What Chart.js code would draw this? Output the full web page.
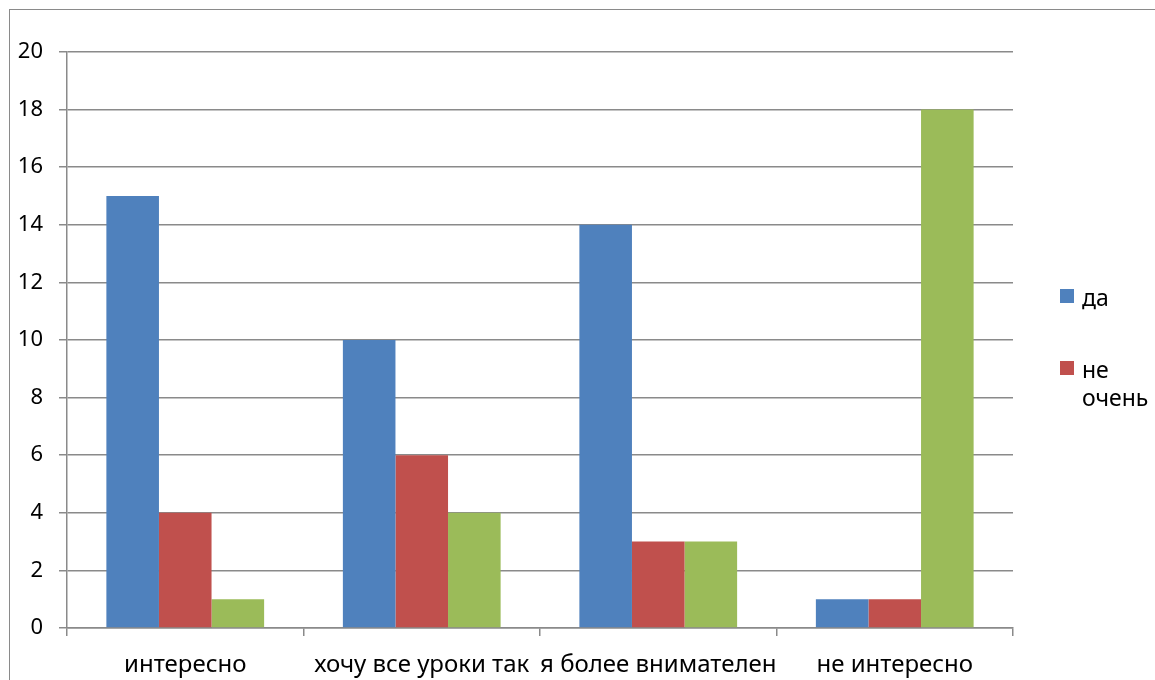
<!DOCTYPE html>
<html>
<head>
<meta charset="utf-8">
<script src="https://cdn.jsdelivr.net/npm/chart.js@4/dist/chart.umd.min.js"></script>
<style>
  html, body { margin: 0; padding: 0; background: #fff; }
  #wrap { position: relative; width: 1155px; height: 680px; overflow: hidden; }
  #frame { position: absolute; left: 9px; top: 9px; width: 1200px; height: 720px;
           border-left: 1.5px solid #8a8a8a; border-top: 1.5px solid #8a8a8a; box-sizing: border-box; }
  #chartBox { position: absolute; left: 0; top: 0; width: 1155px; height: 680px; }
  #legend { position: absolute; left: 1060px; top: 283px; font-family: "Noto Sans", "DejaVu Sans", sans-serif;
            font-size: 23px; color: #000; }
  .item { position: relative; padding-left: 22px; width: 75px; line-height: 28px; margin-bottom: 44px; }
  .sw { position: absolute; left: 0; top: 6px; width: 14px; height: 14px; }
</style>
</head>
<body>
<div id="wrap">
  <div id="frame"></div>
  <div id="chartBox"><canvas id="c"></canvas></div>
  <div id="legend"></div>
</div>
<script>
const categories = ["интересно", "хочу все уроки так", "я более внимателен", "не интересно"];
const seriesNames = ["да", "не очень", "нет"];
const valuesDa = [15, 10, 14, 1];
const valuesNeOchen = [4, 6, 3, 1];
const valuesNet = [1, 4, 3, 18];
const colors = ["#4F81BD", "#C0504D", "#9BBB59"];
const legendShown = 2;

const FONT = "'Noto Sans', 'DejaVu Sans', sans-serif";
const gridColor = "#8a8a8a";

const series = [valuesDa, valuesNeOchen, valuesNet];
new Chart(document.getElementById("c"), {
  type: "bar",
  data: {
    labels: categories,
    datasets: series.map((v, i) => ({
      label: seriesNames[i],
      data: v,
      backgroundColor: colors[i],
      borderWidth: 0,
      categoryPercentage: 0.667,
      barPercentage: 1.0
    }))
  },
  options: {
    responsive: true,
    maintainAspectRatio: false,
    animation: false,
    layout: { padding: { left: 0, top: 52, right: 142, bottom: 0 } },
    plugins: { legend: { display: false }, tooltip: { enabled: false } },
    scales: {
      x: {
        afterFit: s => { s.height = 52; },
        grid: { drawOnChartArea: false, drawTicks: true, tickLength: 8, color: gridColor, lineWidth: 1.5, offset: true },
        border: { display: true, color: gridColor, width: 1.5 },
        ticks: { color: "#000", font: { family: FONT, size: 24 }, padding: 15, maxRotation: 0, autoSkip: false }
      },
      y: {
        min: 0, max: 20,
        afterFit: s => { s.width = 67; },
        grid: { drawOnChartArea: true, drawTicks: true, tickLength: 8, color: gridColor, lineWidth: 1.5 },
        border: { display: true, color: gridColor, width: 1.5 },
        ticks: { stepSize: 2, color: "#000", font: { family: FONT, size: 22 }, padding: 16 }
      }
    }
  }
});

const lg = document.getElementById("legend");
for (let i = 0; i < legendShown; i++) {
  const d = document.createElement("div");
  d.className = "item";
  const sw = document.createElement("span");
  sw.className = "sw";
  sw.style.background = colors[i];
  d.appendChild(sw);
  d.appendChild(document.createTextNode(seriesNames[i]));
  lg.appendChild(d);
}
</script>
</body>
</html>
